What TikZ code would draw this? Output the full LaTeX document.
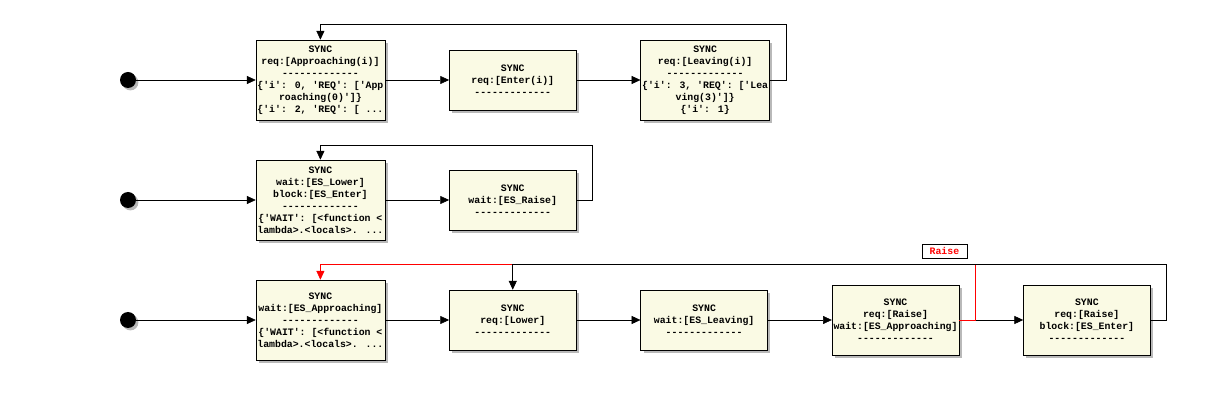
\documentclass[tikz,border=0pt]{standalone}
\usepackage{fontspec}
\usepackage{tikz}
\usetikzlibrary{positioning,shadows,arrows.meta}
\newfontfamily\syncmono{Liberation Mono}
\newcommand{\syncfont}{\syncmono\bfseries\fontsize{7}{8.5}\selectfont}
\definecolor{syncfill}{RGB}{250,250,228}

\begin{document}
\begin{tikzpicture}[
        sync/.style={draw, fill=syncfill, font=\syncfont, align=center,
            minimum width=3.17cm, minimum height=1.5cm, inner sep=1pt,
            drop shadow={shadow xshift=0.07cm, shadow yshift=-0.07cm, fill=black!55, opacity=0.5}},
        syncmid/.style={sync, minimum height=1.75cm},
        syncbig/.style={sync, minimum height=2cm},
        init/.style={circle, fill=black, minimum size=0.4cm, inner sep=0pt,
            drop shadow={shadow xshift=0.06cm, shadow yshift=-0.06cm, fill=black!55, opacity=0.5}},
        edge/.style={-{Triangle[length=0.22cm,width=0.2cm]}},
        lbl/.style={draw, fill=white, text=red, font=\syncfont, minimum width=1.125cm, minimum height=0.35cm, inner sep=1pt}
    ]
    \useasboundingbox (0,0) rectangle (30.4,-10);
    % row 1
    \node[init] (s1) at (3.2,-2) {};
    \node[syncbig] (a1) at (8.01,-2) {SYNC\\req:[Approaching(i)]\\-------------\\\{'i': 0, 'REQ': ['App\\roaching(0)']\}\\\{'i': 2, 'REQ': [ ...};
    \node[sync, right=1.6cm of a1] (a2) {SYNC\\req:[Enter(i)]\\-------------};
    \node[syncbig, right=1.6cm of a2] (a3) {SYNC\\req:[Leaving(i)]\\-------------\\\{'i': 3, 'REQ': ['Lea\\ving(3)']\}\\\{'i': 1\}};
    \draw[edge] (s1) -- (a1);
    \draw[edge] (a1) -- (a2);
    \draw[edge] (a2) -- (a3);
    \draw[edge] (a3.east) -- ++(0.4,0) |- ([yshift=0.375cm]a1.north) -- (a1.north);
    % row 2
    \node[init] (s2) at (3.2,-5) {};
    \node[syncbig] (b1) at (8.01,-5) {SYNC\\wait:[ES\_Lower]\\block:[ES\_Enter]\\-------------\\\{'WAIT': [<function <\\lambda>.<locals>. ...};
    \node[sync, right=1.6cm of b1] (b2) {SYNC\\wait:[ES\_Raise]\\-------------};
    \draw[edge] (s2) -- (b1);
    \draw[edge] (b1) -- (b2);
    \draw[edge] (b2.east) -- ++(0.4,0) |- ([yshift=0.35cm]b1.north) -- (b1.north);
    % row 3
    \node[init] (s3) at (3.2,-8) {};
    \node[syncbig] (c1) at (8.01,-8) {SYNC\\wait:[ES\_Approaching]\\-------------\\\{'WAIT': [<function <\\lambda>.<locals>. ...};
    \node[sync, right=1.6cm of c1] (c2) {SYNC\\req:[Lower]\\-------------};
    \node[sync, right=1.6cm of c2] (c3) {SYNC\\wait:[ES\_Leaving]\\-------------};
    \node[syncmid, right=1.6cm of c3] (c4) {SYNC\\req:[Raise]\\wait:[ES\_Approaching]\\-------------};
    \node[syncmid, right=1.6cm of c4] (c5) {SYNC\\req:[Raise]\\block:[ES\_Enter]\\-------------};
    \draw[edge] (s3) -- (c1);
    \draw[edge] (c1) -- (c2);
    \draw[edge] (c2) -- (c3);
    \draw[edge] (c3) -- (c4);
    \draw[edge] (c4) -- (c5);
    \draw[edge, red] (c4.east) -- ++(0.4,0) |- ([yshift=0.375cm]c1.north) -- (c1.north);
    \draw[edge] (c5.east) -- ++(0.4,0) |- ([yshift=0.625cm]c2.north) -- (c2.north);
    \node[lbl] (raise) at (23.61,-6.275) {Raise};
\end{tikzpicture}
\end{document}
